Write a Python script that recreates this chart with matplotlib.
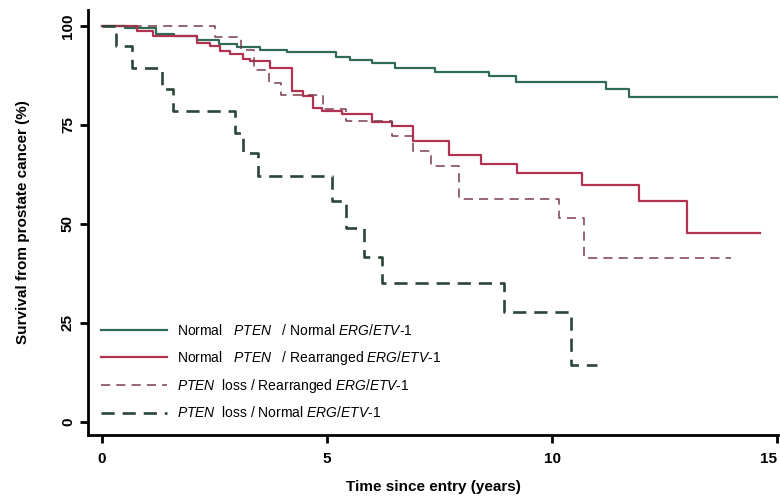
import matplotlib
matplotlib.use("Agg")
import matplotlib.pyplot as plt

plt.rcParams["font.family"] = ["Liberation Sans", "DejaVu Sans"]
plt.rcParams["mathtext.fontset"] = "custom"
plt.rcParams["mathtext.it"] = "Liberation Sans:italic"
plt.rcParams["mathtext.rm"] = "Liberation Sans"

# Kaplan-Meier steps (years, % surviving)
nn_time = [0, 0.5, 1.2, 1.6, 2.1, 2.6, 3.0, 3.5, 4.1, 5.2, 5.5, 6.0, 6.5, 7.4, 8.6, 9.2, 11.2, 11.7, 15.0]
nn_surv = [100, 99.5, 98, 97.5, 96.3, 95.3, 94.7, 94, 93.5, 92.2, 91.3, 90.5, 89.3, 88.3, 87.4, 85.8, 84.0, 82.0, 82.0]

nr_time = [0, 0.78, 1.13, 2.1, 2.4, 2.62, 2.84, 3.13, 3.28, 3.73, 4.21, 4.46, 4.68, 4.88, 5.34,
           6.0, 6.45, 6.9, 7.72, 8.43, 9.22, 10.67, 11.93, 12.99, 14.63]
nr_surv = [100, 98.7, 97.5, 95.7, 95.0, 93.7, 92.9, 91.7, 91.0, 89.4, 83.6, 82.4, 79.3, 78.6, 77.8,
           75.6, 74.8, 71.0, 67.3, 65.2, 62.9, 59.9, 55.7, 47.6, 47.6]

lr_time = [0, 2.5, 3.08, 3.37, 3.7, 3.97, 4.9, 5.43, 6.45, 6.9, 7.32, 7.94, 10.15, 10.71, 13.97]
lr_surv = [100, 97.2, 94.0, 88.9, 85.6, 82.6, 79.1, 76.1, 72.3, 68.5, 64.7, 56.4, 51.4, 41.3, 41.3]

ln_time = [0, 0.31, 0.67, 1.33, 1.57, 2.95, 3.13, 3.46, 5.1, 5.43, 5.83, 6.23, 8.94, 10.42, 11.0]
ln_surv = [100, 94.9, 89.4, 84.1, 78.6, 73.0, 68.0, 62.2, 55.9, 48.9, 41.6, 35.0, 27.7, 14.4, 14.4]

labels = [
    r"Normal   $\mathit{PTEN}$   / Normal $\mathit{ERG/ETV}$-$\mathit{1}$",
    r"Normal   $\mathit{PTEN}$   / Rearranged $\mathit{ERG/ETV}$-$\mathit{1}$",
    r"$\mathit{PTEN}$  loss / Rearranged $\mathit{ERG/ETV}$-$\mathit{1}$",
    r"$\mathit{PTEN}$  loss / Normal $\mathit{ERG/ETV}$-$\mathit{1}$",
]

fig = plt.figure(figsize=(7.8, 5), dpi=100)
ax = fig.add_axes([0.113, 0.13, 0.885, 0.85])

ax.step(nn_time, nn_surv, where="post", color="#2f6b55", lw=1.6, label=labels[0])
ax.step(nr_time, nr_surv, where="post", color="#b3324f", lw=1.6, label=labels[1])
ax.step(lr_time, lr_surv, where="post", color="#7a3d4c", lw=1.1, dashes=(6, 4), label=labels[2])
ax.step(ln_time, ln_surv, where="post", color="#2b4538", lw=1.9, dashes=(5, 3), label=labels[3])

ax.set_xlim(-0.31, 15.03)
ax.set_ylim(-3.3, 104)
ax.set_xticks([0, 5, 10, 15])
ax.set_yticks([0, 25, 50, 75, 100])
for s in ["top", "right"]:
    ax.spines[s].set_visible(False)
for s in ["left", "bottom"]:
    ax.spines[s].set_linewidth(2)
ax.tick_params(width=2, length=6, labelsize=11)
ax.tick_params(axis="x", pad=6)
for t in ax.get_xticklabels() + ax.get_yticklabels():
    t.set_fontweight("bold")
for t in ax.get_yticklabels():
    t.set_rotation(90)
    t.set_va("center")
ax.get_xticklabels()[-1].set_ha("right")

ax.set_xlabel("Time since entry (years)", fontsize=11, fontweight="bold", labelpad=10)
ax.set_ylabel("Survival from prostate cancer (%)", fontsize=11, fontweight="bold", labelpad=22)

ax.legend(loc="lower left", bbox_to_anchor=(0.0, 0.005), frameon=False, fontsize=10,
          handlelength=4.8, labelspacing=0.75, handletextpad=0.7)

fig.savefig("out.png", dpi=100)
